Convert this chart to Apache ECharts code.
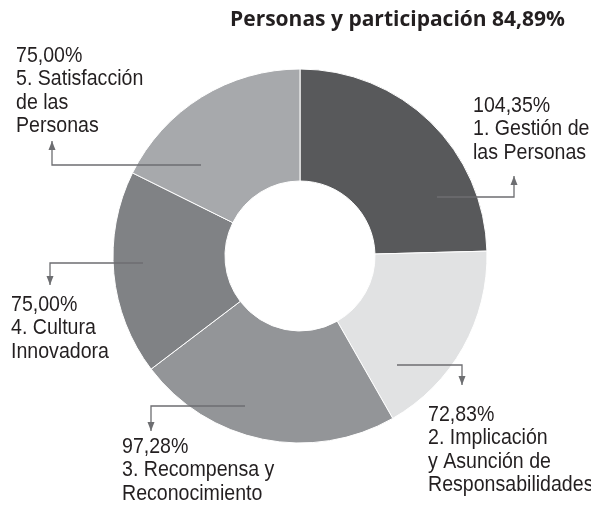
<!DOCTYPE html>
<html>
<head>
<meta charset="utf-8">
<script src="https://cdn.jsdelivr.net/npm/echarts@6/dist/echarts.min.js"></script>
<style>
    html, body { margin: 0; padding: 0; background: #fff; }
    #chart { width: 591px; height: 506px; }
</style>
</head>
<body>
<div id="chart"></div>
<script>
// datos
var names = [
    '1. Gestión de\nlas Personas',
    '2. Implicación\ny Asunción de\nResponsabilidades',
    '3. Recompensa y\nReconocimiento',
    '4. Cultura\nInnovadora',
    '5. Satisfacción\nde las\nPersonas'
];
var values = [104.35, 72.83, 97.28, 75.00, 75.00];
var colors = ['#58595b', '#e1e2e3', '#939598', '#808285', '#a7a9ac'];
var titleText = 'Personas y participación 84,89%';

// posiciones de etiquetas y flechas
var labelPos = [[473, 94], [428, 403], [122, 435], [11, 293], [16, 44]];
var leaders = [
    [[437, 197], [514, 197], [514, 176]],
    [[397, 365], [462, 365], [462, 385]],
    [[245, 406], [151, 406], [151, 431]],
    [[143, 263], [50, 263], [50, 285]],
    [[201, 165], [52, 165], [52, 141]]
];

var font = "'Liberation Sans', Arial, sans-serif";
var textColor = '#231f20';
var lineColor = '#6d6e71';

function fmt(v) {
    return v.toFixed(2).replace('.', ',') + '%';
}

// etiquetas y flechas
var graphics = [];
values.forEach(function (v, i) {
    var pos = labelPos[i];
    graphics.push({
        type: 'text',
        x: pos[0],
        y: pos[1],
        scaleX: 0.87,
        z: 100,
        silent: true,
        style: {
            text: fmt(v) + '\n' + names[i],
            fontFamily: font,
            fontSize: 22.5,
            lineHeight: 23.5,
            fill: textColor,
            align: 'left',
            verticalAlign: 'top'
        }
    });
});
leaders.forEach(function (pts) {
    graphics.push({
        type: 'polyline',
        z: 100,
        shape: { points: pts },
        style: { stroke: lineColor, lineWidth: 1.3, fill: null },
        silent: true
    });
    var a = pts[pts.length - 2], b = pts[pts.length - 1];
    var dx = b[0] - a[0], dy = b[1] - a[1];
    var len = Math.sqrt(dx * dx + dy * dy);
    var ux = dx / len, uy = dy / len;
    var hl = 9, hw = 3.5;
    graphics.push({
        type: 'polygon',
        z: 100,
        shape: {
            points: [
                [b[0], b[1]],
                [b[0] - ux * hl - uy * hw, b[1] - uy * hl + ux * hw],
                [b[0] - ux * hl + uy * hw, b[1] - uy * hl - ux * hw]
            ]
        },
        style: { fill: lineColor },
        silent: true
    });
});

var chart = echarts.init(document.getElementById('chart'));
chart.setOption({
    backgroundColor: '#fff',
    animation: false,
    title: {
        text: titleText,
        right: 21,
        top: 5,
        textStyle: {
            fontFamily: "'Open Sans', sans-serif",
            fontWeight: 'bold',
            fontSize: 21,
            color: textColor
        }
    },
    graphic: graphics,
    series: [{
        type: 'pie',
        center: [300, 256],
        radius: [75, 187],
        startAngle: 90,
        clockwise: true,
        itemStyle: { borderColor: '#fff', borderWidth: 1 },
        label: { show: false },
        labelLine: { show: false },
        emphasis: { disabled: true },
        data: values.map(function (v, i) {
            return { name: names[i], value: v, itemStyle: { color: colors[i] } };
        })
    }]
});
</script>
</body>
</html>
